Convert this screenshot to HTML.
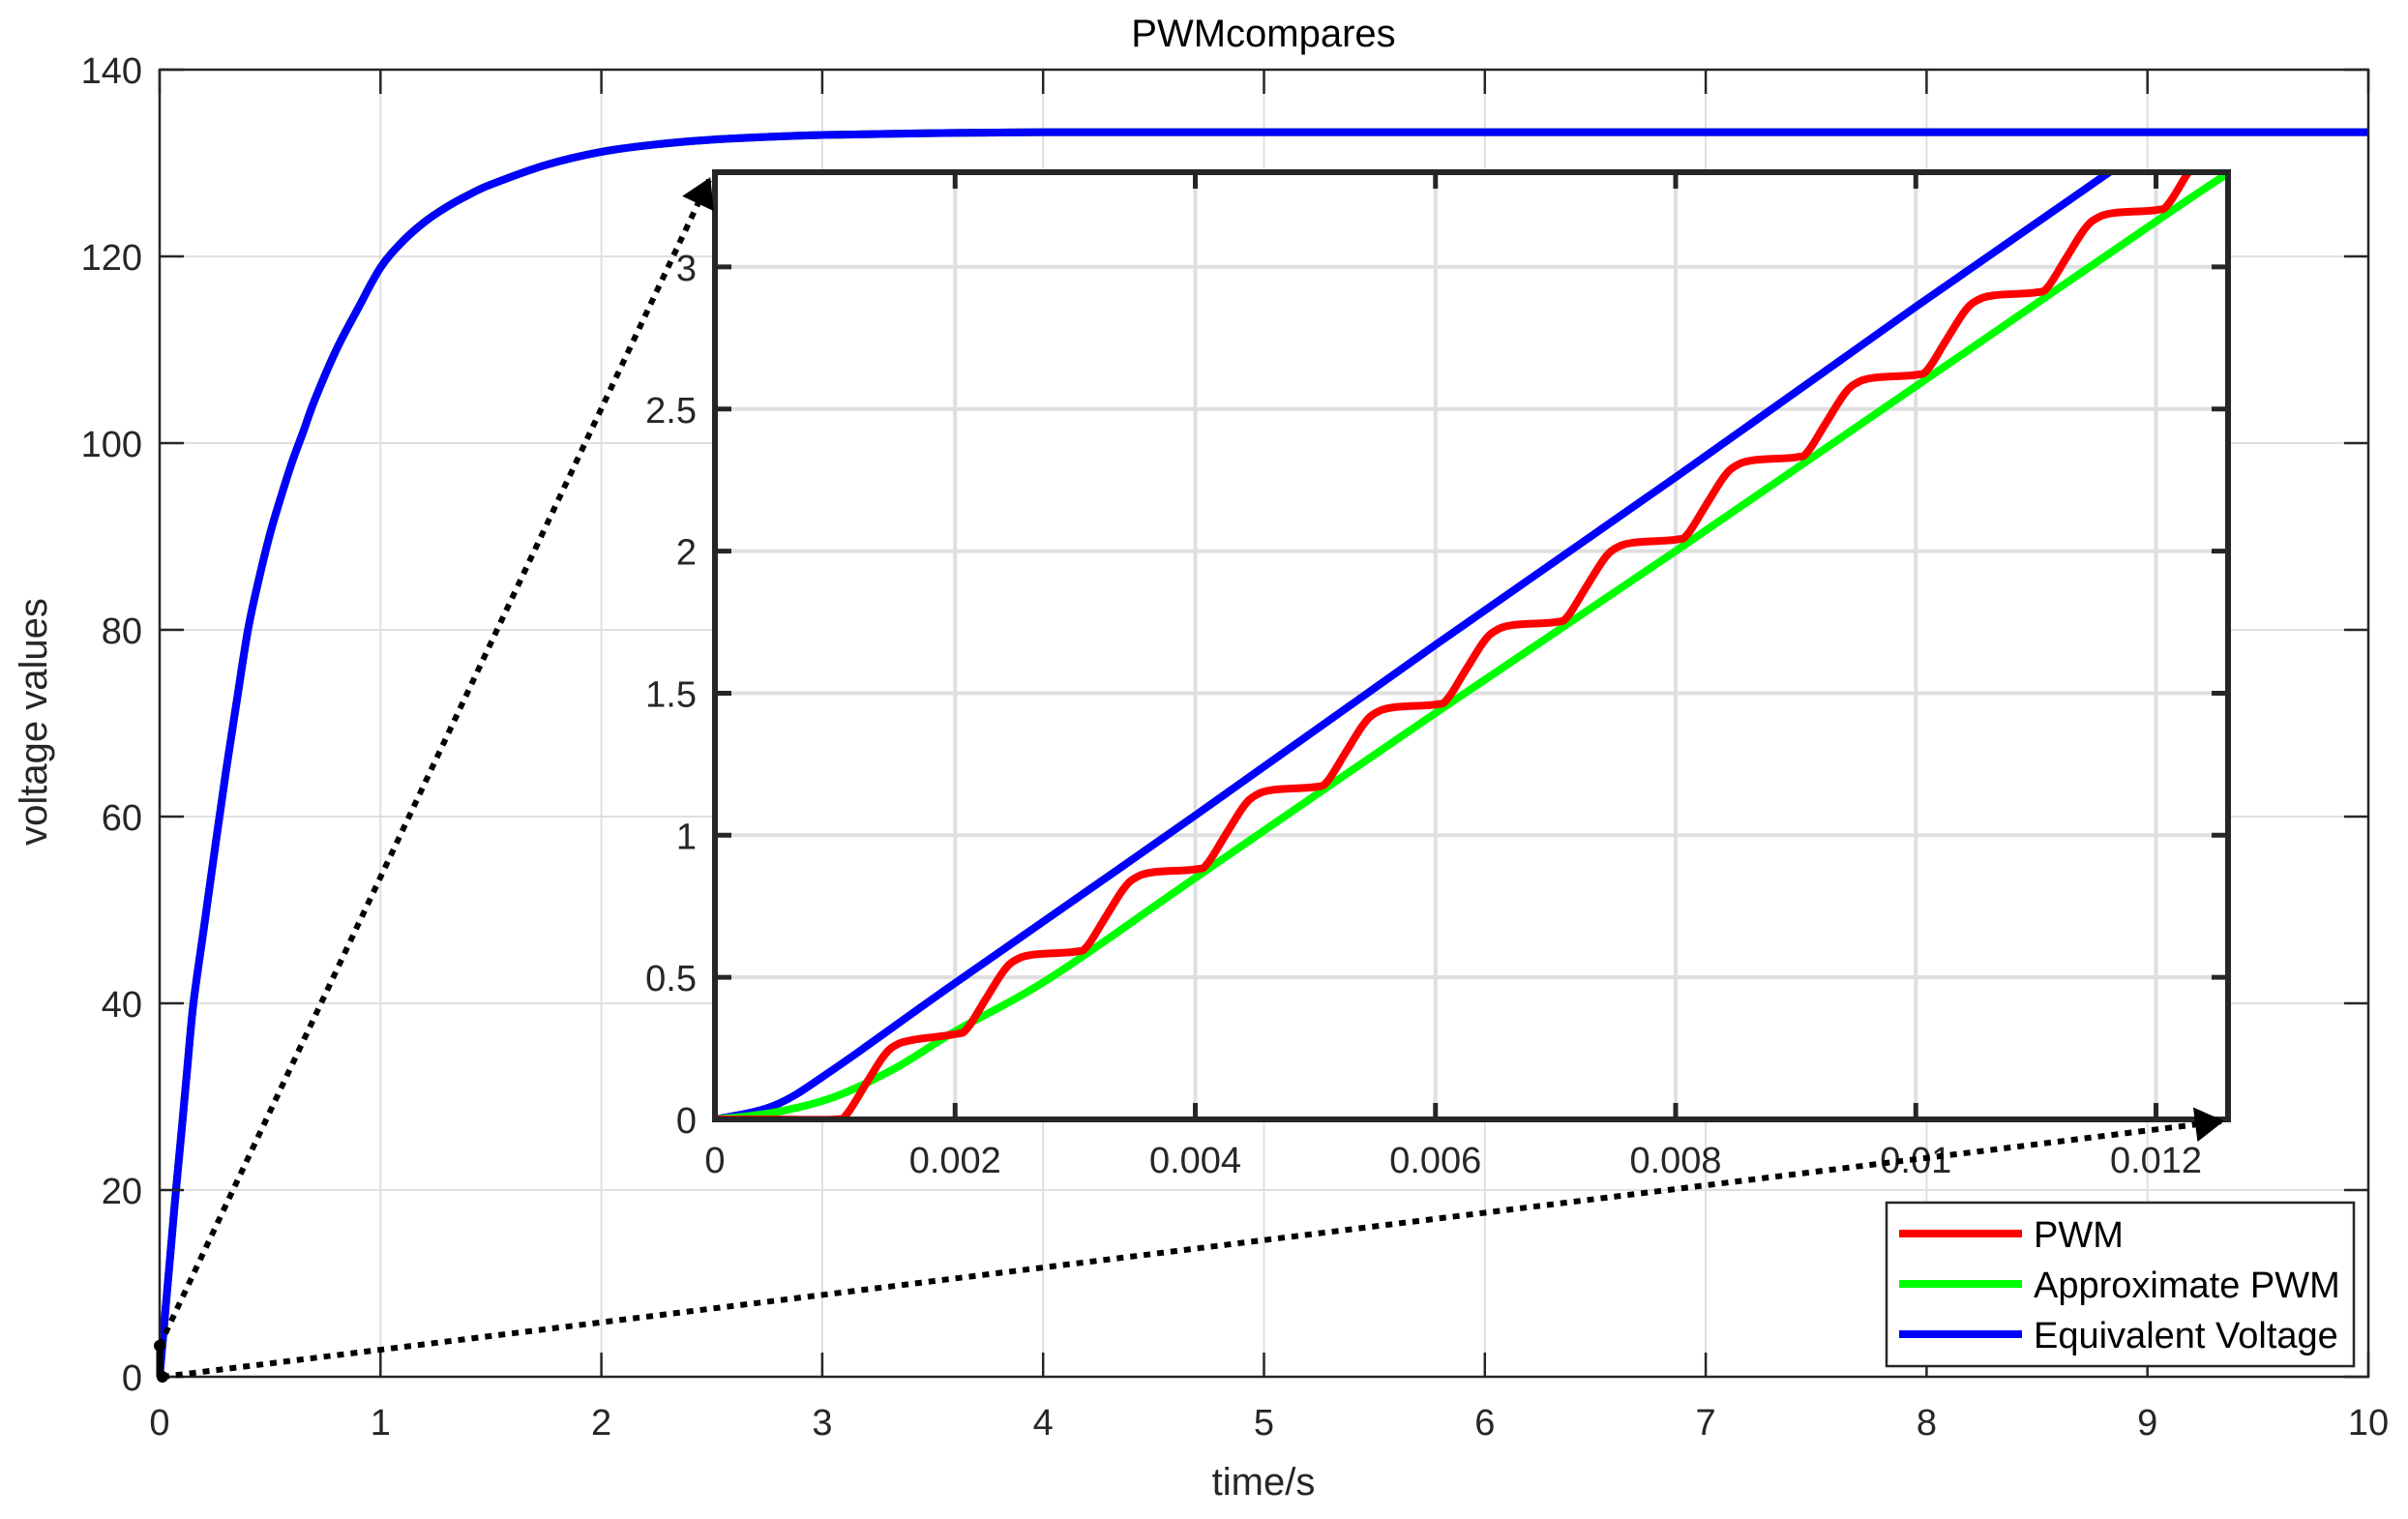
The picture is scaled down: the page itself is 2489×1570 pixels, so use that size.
<!DOCTYPE html>
<html><head><meta charset="utf-8"><style>
html,body{margin:0;padding:0;background:#fff}
svg{display:block}
text{font-family:"Liberation Sans",sans-serif;fill:#262626}
</style></head><body>
<svg id="chart" width="2489" height="1570" viewBox="0 0 2489 1570" xmlns="http://www.w3.org/2000/svg">
<defs>
<clipPath id="mainClip"><rect x="165" y="72" width="2283" height="1351"/></clipPath>
<clipPath id="insetClip"><rect x="739" y="178" width="1564" height="979"/></clipPath>
<marker id="arrow" markerWidth="8" markerHeight="8" refX="7" refY="4" orient="auto" markerUnits="userSpaceOnUse" viewBox="0 0 8 8" style="overflow:visible"><path d="M-20,-14 L10,4 L-20,22 Z" fill="#000"/></marker>
</defs>
<rect x="0" y="0" width="2489" height="1570" fill="#fff"/>
<g id="main-grid"></g>
<g id="main-series" clip-path="url(#mainClip)"></g>
<g id="main-axes"></g>
<g id="inset"></g>
<g id="zoom-marks"></g>
<g id="legend">
<rect x="1950" y="1243" width="483" height="169" fill="#fff" stroke="#262626" stroke-width="2.5"/>
<line x1="1963" y1="1275" x2="2090" y2="1275" stroke="#ff0000" stroke-width="8"/>
<text x="2102" y="1289" font-size="38" style="fill:#000">PWM</text>
<line x1="1963" y1="1327" x2="2090" y2="1327" stroke="#00ff00" stroke-width="8"/>
<text x="2102" y="1341" font-size="38" style="fill:#000">Approximate PWM</text>
<line x1="1963" y1="1379" x2="2090" y2="1379" stroke="#0000ff" stroke-width="8"/>
<text x="2102" y="1393" font-size="38" style="fill:#000">Equivalent Voltage</text>
</g>
<text x="1306" y="48" font-size="40" text-anchor="middle" style="fill:#000">PWMcompares</text>
<text x="1306" y="1545" font-size="40" text-anchor="middle">time/s</text>
<text x="0" y="0" font-size="40" text-anchor="middle" transform="translate(48,746) rotate(-90)">voltage values</text>
</svg>
<script>
// main chart data
const mainXTicks = [0,1,2,3,4,5,6,7,8,9,10];
const mainYTicks = [0,20,40,60,80,100,120,140];
const mainT = [0,0.025,0.05,0.074,0.1,0.125,0.153,0.2,0.25,0.3,0.35,0.4,0.45,0.5,0.55,0.6,0.65,0.7,0.8,0.9,1.0,1.1,1.2,1.3,1.4,1.5,1.75,2.0,2.25,2.5,2.75,3.0,3.5,4,5,6,7,8,9,10];
const mainV = [0,6.8,13.5,20,26.5,33,40,48,56.5,64.8,72.5,80,85.5,90.3,94.3,98,101.2,104.5,110,114.5,118.8,121.6,123.7,125.3,126.6,127.7,129.8,131.2,132.0,132.5,132.8,133.0,133.2,133.3,133.3,133.3,133.3,133.3,133.3,133.3];
// inset data (time in ms)
const insetXTicks = [0,0.002,0.004,0.006,0.008,0.01,0.012];
const insetXLabels = ["0","0.002","0.004","0.006","0.008","0.01","0.012"];
const insetYTicks = [0,0.5,1,1.5,2,2.5,3];
const insetYLabels = ["0","0.5","1","1.5","2","2.5","3"];
const blueT = [0,0.5,1,2,4,6,8,10,11.6,12.6];
const blueV = [0,0.05,0.18,0.48,1.07,1.67,2.26,2.86,3.33,3.63];
const greenT = [0,0.5,1,1.5,2,2.8,4,6,8,10,12,12.6];
const greenV = [0,0.025,0.08,0.18,0.31,0.5,0.85,1.43,2.0,2.58,3.16,3.33];
const redT = [0,0.5,1.0,
1.1,1.25,1.4,1.5,1.65,2.0, 2.1,2.25,2.4,2.5,2.65,3.0, 3.1,3.25,3.4,3.5,3.65,4.0,
4.1,4.25,4.4,4.5,4.65,5.0, 5.1,5.25,5.4,5.5,5.65,6.0, 6.1,6.25,6.4,6.5,6.65,7.0,
7.1,7.25,7.4,7.5,7.65,8.0, 8.1,8.25,8.4,8.5,8.65,9.0, 9.1,9.25,9.4,9.5,9.65,10.0,
10.1,10.25,10.4,10.5,10.65,11.0, 11.1,11.25,11.4,11.5,11.65,12.0, 12.1,12.25,12.4];
const redV = [0,0,0,
0.02,0.12,0.22,0.26,0.28,0.30, 0.32,0.42,0.52,0.56,0.58,0.59, 0.61,0.71,0.81,0.85,0.87,0.88,
0.90,1.00,1.10,1.14,1.16,1.17, 1.19,1.29,1.39,1.43,1.45,1.46, 1.48,1.58,1.68,1.72,1.74,1.75,
1.77,1.87,1.97,2.01,2.03,2.04, 2.06,2.16,2.26,2.30,2.32,2.33, 2.35,2.45,2.55,2.59,2.61,2.62,
2.64,2.74,2.84,2.88,2.90,2.91, 2.93,3.03,3.13,3.17,3.19,3.20, 3.22,3.32,3.42];

const NS='http://www.w3.org/2000/svg';
function mk(tag,attrs,parent){const e=document.createElementNS(NS,tag);for(const k in attrs)e.setAttribute(k,attrs[k]);parent.appendChild(e);return e;}
const mx=t=>165+t/10*2283, my=v=>1423-v/140*1351;
const ix=t=>739+t/0.0126*1564, iy=v=>1157-v/(10/3)*979;
function smooth(xs,ys,fx,fy){
  const p=xs.map((x,i)=>[fx(x),fy(ys[i])]);
  let d='M'+p[0][0]+','+p[0][1];
  for(let i=0;i<p.length-1;i++){
    const p0=p[Math.max(0,i-1)],p1=p[i],p2=p[i+1],p3=p[Math.min(p.length-1,i+2)];
    const c1=[p1[0]+(p2[0]-p0[0])/6,p1[1]+(p2[1]-p0[1])/6];
    const c2=[p2[0]-(p3[0]-p1[0])/6,p2[1]-(p3[1]-p1[1])/6];
    d+=' C'+c1[0]+','+c1[1]+' '+c2[0]+','+c2[1]+' '+p2[0]+','+p2[1];
  }
  return d;
}
// main grid & axes
const mg=document.getElementById('main-grid'), ma=document.getElementById('main-axes');
mainXTicks.forEach(t=>{
  const g=mk('line',{x1:mx(t),x2:mx(t),y1:72,y2:1423,stroke:'#dfdfdf','stroke-width':2},mg);
  
  
  [[1423,1398],[72,97]].forEach(([a,b])=>{const tk=mk('line',{x1:mx(t),x2:mx(t),y1:a,y2:b,stroke:'#262626','stroke-width':2.5},ma);
    
    });
  const lb=mk('text',{x:mx(t),y:1483,'font-size':38,'text-anchor':'middle'},ma);
  lb.textContent=t;
  
  
});
mainYTicks.forEach(v=>{
  const g=mk('line',{x1:165,x2:2448,y1:my(v),y2:my(v),stroke:'#dfdfdf','stroke-width':2},mg);
  
  
  [[165,190],[2448,2423]].forEach(([a,b])=>{const tk=mk('line',{x1:a,x2:b,y1:my(v),y2:my(v),stroke:'#262626','stroke-width':2.5},ma);
    
    });
  const lb=mk('text',{x:147,y:my(v)+14,'font-size':38,'text-anchor':'end'},ma);
  lb.textContent=v;
  
  
});
const frame=mk('rect',{x:165,y:72,width:2283,height:1351,fill:'none',stroke:'#262626','stroke-width':2.5},ma);


// main series
const ms=document.getElementById('main-series');
[['#ff0000','main-pwm-line'],['#00ff00','main-approx-line'],['#0000ff','main-equiv-line']].forEach(([c,n])=>{
  const p=mk('path',{d:smooth(mainT,mainV,mx,my),fill:'none',stroke:c,'stroke-width':8,'stroke-linejoin':'round'},ms);
  
  
});
// inset
const ins=document.getElementById('inset');
const bg=mk('rect',{x:739,y:178,width:1564,height:979,fill:'#fff'},ins);


insetXTicks.forEach((t,i)=>{
  const g=mk('line',{x1:ix(t),x2:ix(t),y1:178,y2:1157,stroke:'#dfdfdf','stroke-width':4},ins);
  
  
});
insetYTicks.forEach((v,i)=>{
  const g=mk('line',{x1:739,x2:2303,y1:iy(v),y2:iy(v),stroke:'#dfdfdf','stroke-width':4},ins);
  
  
});
const isg=mk('g',{'clip-path':'url(#insetClip)'},ins);


[[blueT,blueV,'#0000ff','inset-equiv-line'],[greenT,greenV,'#00ff00','inset-approx-line'],[redT,redV,'#ff0000','inset-pwm-line']].forEach(([T,V,c,n])=>{
  const p=mk('path',{d:smooth(T.map(t=>t/1000),V,ix,iy),fill:'none',stroke:c,'stroke-width':8,'stroke-linejoin':'round'},isg);
  
  
});
insetXTicks.forEach((t,i)=>{
  [[1157,1140],[178,195]].forEach(([a,b])=>{const tk=mk('line',{x1:ix(t),x2:ix(t),y1:a,y2:b,stroke:'#262626','stroke-width':5},ins);
    
    });
  const lb=mk('text',{x:ix(t),y:1212,'font-size':38,'text-anchor':'middle'},ins);
  lb.textContent=insetXLabels[i];
  
  
});
insetYTicks.forEach((v,i)=>{
  [[739,756],[2303,2286]].forEach(([a,b])=>{const tk=mk('line',{x1:a,x2:b,y1:iy(v),y2:iy(v),stroke:'#262626','stroke-width':5},ins);
    
    });
  const lb=mk('text',{x:720,y:iy(v)+14,'font-size':38,'text-anchor':'end'},ins);
  lb.textContent=insetYLabels[i];
  
  
});
const ifr=mk('rect',{x:739,y:178,width:1564,height:979,fill:'none',stroke:'#262626','stroke-width':6},ins);


// zoom indicator
const zm=document.getElementById('zoom-marks');
const zr=mk('line',{x1:mx(0),y1:my(0),x2:mx(0),y2:my(10/3),stroke:'#000','stroke-width':7},zm);


[[mx(0),my(10/3)],[mx(0.0126),my(0)]].forEach(([x,y])=>{const c=mk('circle',{cx:x,cy:y,r:6,fill:'#000'},zm);
  
  });
const a1=mk('line',{x1:mx(0),y1:my(10/3),x2:733,y2:186,stroke:'#000','stroke-width':6,'stroke-dasharray':'7 7','marker-end':'url(#arrow)'},zm);


const a2=mk('line',{x1:mx(0.0126),y1:my(0),x2:2296,y2:1159,stroke:'#000','stroke-width':6,'stroke-dasharray':'7 7','marker-end':'url(#arrow)'},zm);


</script>
</body></html>
